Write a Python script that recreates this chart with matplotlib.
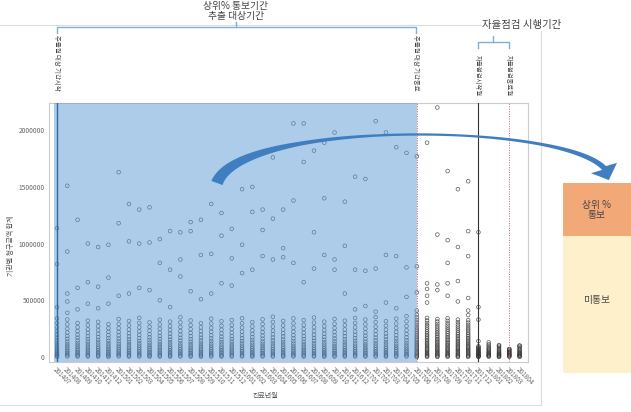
import numpy as np
import matplotlib.pyplot as plt
from matplotlib.patches import Polygon, Rectangle
from matplotlib.lines import Line2D

plt.rcParams['font.family'] = ['Noto Sans CJK KR', 'DejaVu Sans']

W, H = 631, 412

months = ['201407', '201408', '201409', '201410', '201411', '201412',
          '201501', '201502', '201503', '201504', '201505', '201506',
          '201507', '201508', '201509', '201510', '201511', '201512',
          '201601', '201602', '201603', '201604', '201605', '201606',
          '201607', '201608', '201609', '201610', '201611', '201612',
          '201701', '201702', '201703', '201704', '201705', '201706',
          '201707', '201708', '201709', '201710', '201711', '201712',
          '201801', '201802', '201803', '201804']

# high values per month (thousands)
upper_k = [
    [1136, 820, 440], [1510, 930, 560, 490, 390], [1210, 610, 420], [1000, 660, 470],
    [970, 620, 430], [990, 700, 470], [1630, 1180, 540], [1350, 1020, 560],
    [1300, 1000, 610], [1320, 1010, 590], [1040, 830, 500], [1110, 770, 440],
    [1100, 860, 710], [1190, 1110, 580], [1210, 900, 510], [1350, 910, 560],
    [1270, 1070, 650], [1130, 870, 630], [1480, 990, 740], [1500, 1280, 770],
    [1300, 1120, 890], [1760, 1220, 860], [1300, 960, 880], [2060, 1380, 830],
    [2060, 1720, 660], [1820, 1100, 780], [1890, 1400, 900], [1980, 860, 770],
    [1370, 980, 560], [1590, 770, 420], [1570, 760, 450], [2080, 780, 400],
    [1980, 900, 480], [1850, 890, 430], [1800, 790, 530], [1770, 800, 570, 410],
    [1890, 650, 600, 540, 480], [2200, 1080, 640, 590], [1640, 1030, 830, 650, 540],
    [1480, 970, 670, 490], [1550, 1110, 890, 520, 410, 370], [1100, 440, 330, 140],
    [130], [100], [70], [100],
]

# dense low values per month (thousands)
lower_k = [
    [340, 300, 262, 228, 198, 170, 146, 124, 104, 86, 70, 55, 42, 30, 19, 9, 2],
    [330, 288, 250, 216, 186, 160, 136, 115, 96, 79, 64, 50, 37, 26, 15, 6],
    [300, 262, 228, 197, 170, 146, 124, 105, 88, 72, 58, 45, 33, 22, 12, 4],
    [320, 280, 244, 212, 183, 158, 135, 114, 95, 78, 63, 49, 36, 24, 13, 5],
    [310, 272, 236, 204, 176, 151, 129, 109, 91, 75, 60, 46, 34, 22, 12, 3],
    [290, 254, 222, 193, 167, 143, 122, 103, 86, 70, 56, 43, 31, 20, 10, 2],
    [335, 292, 254, 220, 190, 163, 139, 117, 98, 81, 65, 51, 38, 26, 15, 6],
    [318, 278, 242, 210, 181, 156, 133, 112, 94, 77, 62, 48, 35, 23, 12, 4],
    [345, 301, 261, 226, 195, 167, 142, 120, 100, 82, 66, 51, 38, 25, 14, 5],
    [305, 266, 232, 201, 174, 149, 127, 107, 89, 73, 58, 45, 33, 21, 11, 3],
    [328, 286, 249, 215, 185, 159, 135, 114, 95, 78, 62, 48, 35, 23, 13, 4],
    [312, 273, 238, 206, 178, 153, 130, 110, 92, 75, 60, 47, 34, 22, 11, 3],
    [350, 305, 265, 229, 197, 169, 144, 121, 101, 83, 67, 52, 38, 26, 14, 5],
    [322, 281, 245, 212, 183, 157, 134, 113, 94, 77, 62, 48, 35, 23, 12, 4],
    [298, 261, 227, 197, 170, 146, 124, 105, 87, 71, 57, 44, 32, 21, 11, 3],
    [338, 295, 256, 222, 191, 164, 140, 118, 99, 81, 65, 50, 37, 25, 14, 5],
    [315, 275, 240, 208, 179, 154, 131, 111, 92, 76, 61, 47, 34, 22, 12, 4],
    [326, 284, 247, 214, 184, 158, 135, 114, 95, 78, 63, 49, 36, 24, 13, 4],
    [342, 298, 259, 224, 193, 166, 141, 119, 99, 81, 65, 51, 37, 25, 14, 5],
    [308, 269, 234, 203, 175, 150, 128, 108, 90, 74, 59, 46, 33, 22, 12, 3],
    [332, 290, 252, 218, 188, 161, 137, 116, 97, 79, 64, 49, 36, 24, 13, 5],
    [355, 309, 268, 232, 200, 171, 146, 123, 102, 84, 67, 52, 38, 26, 14, 5],
    [318, 278, 242, 210, 181, 155, 132, 112, 93, 76, 61, 47, 34, 22, 12, 4],
    [340, 297, 258, 223, 192, 165, 140, 118, 98, 80, 64, 50, 37, 25, 14, 5],
    [325, 284, 247, 214, 184, 158, 134, 113, 94, 77, 62, 48, 35, 23, 12, 4],
    [348, 303, 263, 227, 196, 168, 143, 120, 100, 82, 66, 51, 37, 25, 13, 5],
    [312, 272, 237, 205, 177, 152, 129, 109, 91, 74, 59, 46, 33, 22, 11, 3],
    [336, 293, 255, 221, 190, 163, 139, 117, 97, 80, 64, 49, 36, 24, 13, 4],
    [320, 280, 243, 211, 182, 156, 133, 112, 93, 76, 61, 47, 34, 23, 12, 4],
    [344, 300, 261, 225, 194, 166, 141, 119, 99, 81, 65, 50, 37, 25, 14, 5],
    [330, 288, 250, 217, 187, 160, 136, 115, 96, 78, 63, 49, 35, 23, 12, 4],
    [352, 307, 267, 231, 199, 170, 145, 122, 102, 83, 67, 52, 38, 26, 14, 5],
    [316, 276, 240, 208, 179, 154, 131, 111, 92, 75, 60, 46, 34, 22, 12, 3],
    [338, 295, 256, 222, 191, 164, 140, 118, 98, 80, 64, 50, 36, 24, 13, 4],
    [360, 314, 272, 235, 202, 173, 147, 124, 103, 85, 68, 53, 39, 26, 15, 5],
    [375, 350, 326, 304, 283, 263, 244, 226, 209, 193, 177, 162, 148, 134, 121, 108, 96, 84, 72, 61, 50, 40, 30, 21, 12, 5, 1],
    [345, 322, 300, 280, 261, 243, 226, 210, 194, 179, 164, 150, 137, 124, 111, 99, 87, 76, 65, 54, 44, 34, 25, 16, 8, 2],
    [335, 313, 292, 272, 253, 236, 219, 203, 188, 173, 159, 146, 133, 120, 108, 96, 85, 74, 63, 53, 43, 33, 24, 15, 7, 1],
    [342, 319, 297, 277, 258, 240, 223, 207, 191, 176, 162, 148, 135, 122, 110, 98, 86, 75, 64, 54, 44, 34, 25, 16, 8, 2],
    [330, 308, 287, 268, 249, 232, 215, 200, 185, 170, 156, 143, 130, 118, 106, 94, 83, 72, 62, 52, 42, 32, 23, 14, 6, 1],
    [325, 303, 283, 264, 246, 229, 212, 197, 182, 168, 154, 141, 128, 116, 104, 93, 82, 71, 61, 51, 41, 32, 23, 14, 7, 2],
    [95, 86, 78, 70, 62, 55, 48, 41, 35, 29, 23, 18, 13, 8, 4, 1],
    [112, 98, 86, 75, 65, 56, 47, 39, 32, 25, 19, 13, 8, 3],
    [104, 90, 78, 67, 57, 48, 40, 33, 26, 20, 14, 9, 4, 1],
    [70, 62, 54, 47, 40, 34, 28, 22, 17, 12, 7, 3],
    [100, 87, 75, 64, 54, 45, 37, 30, 23, 17, 11, 6, 2],
]

yticks = [0, 500000, 1000000, 1500000, 2000000]
ytick_labels = ['0', '500000', '1000000', '1500000', '2000000']


def fx(x):
    return x / W


def fy(y):
    return 1 - y / H


fig = plt.figure(figsize=(W / 100, H / 100), dpi=100)

# outer light frame
fig.patches.append(Rectangle((fx(-3), fy(405)), fx(544), 380 / H, transform=fig.transFigure,
                             fill=False, ec='#dcdcdc', lw=0.8))

ax = fig.add_axes([fx(49), fy(362), fx(528 - 49), (362 - 103) / H])

for i in range(len(months)):
    vals = np.array(upper_k[i] + lower_k[i]) * 1000
    ax.scatter(np.full(len(vals), i), vals, s=7, facecolors='none',
               edgecolors='#333333', linewidths=0.5, alpha=0.8, zorder=2)

ax.axvspan(-0.3, 35, color='#5b9bd5', alpha=0.5, lw=0, zorder=3)
ax.axvline(0, color='#2f6aa8', lw=1.0, zorder=4)
ax.axvline(35, color='#e05a64', lw=0.7, ls=(0, (1, 1.5)), zorder=4)
ax.axvline(41, color='#333333', lw=0.8, zorder=4)
ax.axvline(44, color='#e05a64', lw=0.7, ls=(0, (1, 1.5)), zorder=4)

ax.set_xlim(-0.78, 45.82)
ax.set_ylim(-44000, 2240000)
ax.set_xticks(range(len(months)))
ax.set_xticklabels(months, rotation=-45, ha='left', va='top', rotation_mode='anchor',
                   fontsize=4.6, color='#666666')
ax.set_yticks(yticks)
ax.set_yticklabels(ytick_labels, fontsize=4.8, color='#666666')
ax.tick_params(length=0, pad=3)
for sp in ax.spines.values():
    sp.set_color('#cccccc')
    sp.set_linewidth(0.8)

ax.set_xlabel('진료년월', fontsize=5, color='#555555')
ax.xaxis.set_label_coords((265 - 49) / 479, -0.115)
ax.set_ylabel('기관별 청구금액 합계', fontsize=5, color='#555555')
ax.yaxis.set_label_coords(-0.072, 0.45)

# vertical notes above the lines
notes = [(57, 35, '추출월 대상 기간시작'), (416, 35, '추출월 대상 기간종료'),
         (478, 55, '자율점검시작월'), (509, 55, '자율점검종료월')]
for x, y, s in notes:
    fig.text(fx(x), fy(y), s, rotation=-90, ha='center', va='top', fontsize=4.6, color='#444444')

# brackets
bc = '#7fb0da'
fig.lines.append(Line2D([fx(57), fx(57), fx(416), fx(416)], [fy(33), fy(27), fy(27), fy(33)],
                        transform=fig.transFigure, color=bc, lw=1))
fig.lines.append(Line2D([fx(236), fx(236)], [fy(27), fy(22)], transform=fig.transFigure, color=bc, lw=1))
fig.lines.append(Line2D([fx(478), fx(478), fx(509), fx(509)], [fy(48), fy(42), fy(42), fy(48)],
                        transform=fig.transFigure, color=bc, lw=1))
fig.lines.append(Line2D([fx(493), fx(493)], [fy(42), fy(36)], transform=fig.transFigure, color=bc, lw=1))

fig.text(fx(236), fy(1), '상위% 통보기간\n추출 대상기간', ha='center', va='top', fontsize=7,
         color='#444444', linespacing=1.05)
fig.text(fx(522), fy(25), '자율점검 시행기간', ha='center', va='center', fontsize=7.5, color='#444444',
         bbox=dict(fc='white', ec='none', pad=0.5))

# right side boxes
fig.patches.append(Rectangle((fx(563), fy(236)), fx(70), 53 / H, transform=fig.transFigure,
                             fc='#f3a877', ec='none'))
fig.patches.append(Rectangle((fx(563), fy(373)), fx(70), 137 / H, transform=fig.transFigure,
                             fc='#fdf0ca', ec='none'))
fig.text(fx(597), fy(210), '상위 %\n통보', ha='center', va='center', fontsize=7, color='#444444',
         linespacing=1.1)
fig.text(fx(597), fy(300), '미통보', ha='center', va='center', fontsize=7, color='#444444')

# curved arrow
P = np.array([[217, 183], [240, 120], [560, 122], [604, 168]], float)
t = np.linspace(0, 1, 200)[:, None]
B = (1 - t) ** 3 * P[0] + 3 * (1 - t) ** 2 * t * P[1] + 3 * (1 - t) * t ** 2 * P[2] + t ** 3 * P[3]
D = 3 * (1 - t) ** 2 * (P[1] - P[0]) + 6 * (1 - t) * t * (P[2] - P[1]) + 3 * t ** 2 * (P[3] - P[2])
D = D / np.linalg.norm(D, axis=1)[:, None]
N = np.column_stack([-D[:, 1], D[:, 0]])
w = np.interp(t[:, 0], [0, 0.15, 0.3, 0.45, 0.62, 0.78, 0.9, 1], [12, 8, 4, 2.4, 2.2, 3, 4.5, 5.5])
left = B + N * w[:, None] / 2
right = B - N * w[:, None] / 2
hd = np.array([0.4, 1.0])
hd = hd / np.linalg.norm(hd)
hn = np.array([-hd[1], hd[0]])
tip = P[3] + hd * 13
head = [P[3] + hn * 14, tip, P[3] - hn * 14]
pts = np.vstack([left, head, right[::-1]])
fig.patches.append(Polygon(np.column_stack([pts[:, 0] / W, 1 - pts[:, 1] / H]), closed=True,
                           transform=fig.transFigure, fc='#3f7fc1', ec='none', zorder=10))

fig.savefig('out.png', dpi=100)
